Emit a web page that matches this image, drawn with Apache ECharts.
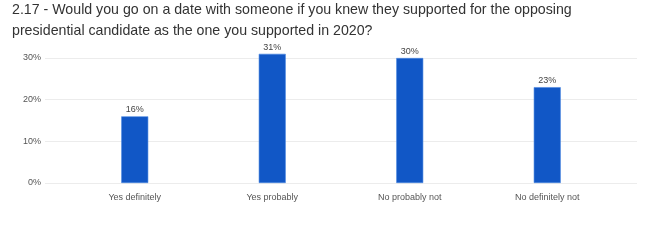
<!DOCTYPE html>
<html><head><meta charset="utf-8">
<script src="https://cdn.jsdelivr.net/npm/echarts@6/dist/echarts.min.js"></script>
<style>html,body{margin:0;padding:0;background:#fff}#c{width:654px;height:245px}</style>
</head><body><div id="c"></div>
<script>
const categories = ["Yes definitely", "Yes probably", "No probably not", "No definitely not"];
const values = [16, 31, 30, 23];
const yTicks = [0, 10, 20, 30];
const titleLines = ["2.17 - Would you go on a date with someone if you knew they supported for the opposing", "presidential candidate as the one you supported in 2020?"];

const chart = echarts.init(document.getElementById('c'), null, {renderer: 'canvas'});
chart.setOption({
  animation: false,
  title: {
    text: titleLines.join('\n'), left: 12, top: 0, padding: 0,
    textStyle: {fontFamily: 'Liberation Sans, Arial, sans-serif', fontSize: 14.2, fontWeight: 'normal', color: '#333', lineHeight: 21}
  },
  grid: [
    {left: 45, right: 17, top: 58, bottom: 62},
    {left: 66, right: 38, top: 58, bottom: 62}
  ],
  xAxis: [
    {gridIndex: 0, type: 'category', data: categories, show: false},
    {gridIndex: 1, type: 'category', data: categories,
      axisLine: {show: false}, axisTick: {show: false},
      axisLabel: {color: '#555', fontSize: 9, fontFamily: 'Liberation Sans, Arial, sans-serif', margin: 10}}
  ],
  yAxis: [
    {gridIndex: 0, type: 'value', min: yTicks[0], max: yTicks[yTicks.length-1], interval: 10,
      axisLine: {show: false}, axisTick: {show: false},
      splitLine: {lineStyle: {color: '#ececec'}},
      axisLabel: {formatter: '{value}%', color: '#555', fontSize: 9, fontFamily: 'Liberation Sans, Arial, sans-serif', margin: 4}},
    {gridIndex: 1, type: 'value', min: yTicks[0], max: yTicks[yTicks.length-1], interval: 10, show: false, splitLine: {show: false}}
  ],
  series: [{
    type: 'bar', xAxisIndex: 1, yAxisIndex: 1, data: values, barWidth: 27, clip: false,
    itemStyle: {color: '#1157c6', borderColor: '#4a86e0', borderWidth: 0.6},
    label: {show: true, position: 'top', formatter: '{c}%', color: '#444', fontSize: 9, distance: 2, fontFamily: 'Liberation Sans, Arial, sans-serif'}
  }]
});
</script></body></html>
